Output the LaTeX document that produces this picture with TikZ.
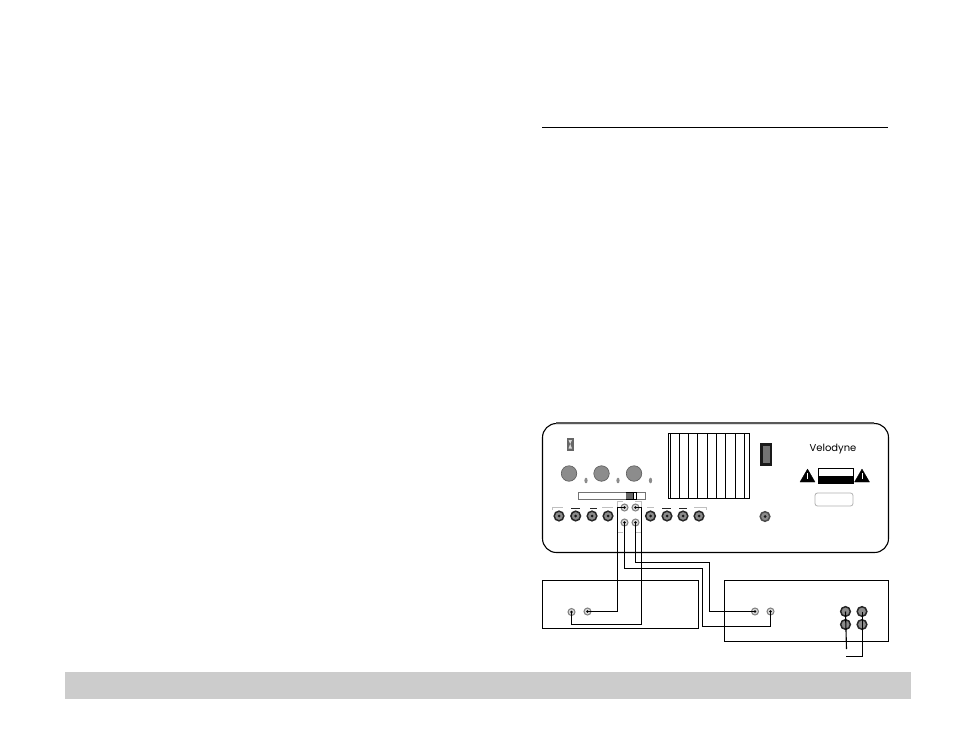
\documentclass[tikz,border=0pt]{standalone}
\usepackage{fontspec}
\setmainfont{Poppins}
\usetikzlibrary{shapes.geometric}
\tikzset{
  x=1bp,y=-1bp,
  wire/.style={draw=black,line width=1.1bp,line join=miter},
  edge box/.style={draw=black,line width=1.1bp},
  big socket/.style={circle,draw=black!85,line width=1.5bp,fill=black!45,minimum size=9.6bp,inner sep=0pt},
  small socket/.style={circle,draw=black!50,line width=1bp,fill=black!15,minimum size=7bp,inner sep=0pt},
  knob/.style={circle,draw=black!65,line width=0.6bp,fill=black!45,minimum size=15.5bp,inner sep=0pt},
  pip/.style={ellipse,fill=black!45,minimum width=3.2bp,minimum height=5.6bp,inner sep=0pt},
  soft/.style={draw=black!25,line width=0.8bp},
  hardtick/.style={draw=black!85,line width=0.8bp},
  louver/.style={draw=black,line width=0.7bp},
  warn/.style={fill=black,draw=black,line width=0.3bp,line join=round},
  dotc/.style={circle,fill=black!90,minimum size=3bp,inner sep=0pt},
}
\begin{document}
\begin{tikzpicture}
\useasboundingbox (0,0) rectangle (954,738);
\fill[white] (0,0) rectangle (954,738);
% page furniture
\draw[black,line width=1bp] (542,127.5) -- (888,127.5);
\fill[black!20] (65,672) rectangle (911,699);
% panel
\draw[edge box,rounded corners=14bp] (542.5,423.5) rectangle (888.5,552.5);
\draw[black!65,line width=1.6bp] (556,423) -- (874,423);
% small badge
\fill[black!60] (566.5,438) rectangle (574,450.5);
\fill[black!15] (568.5,440) -- (572,440) -- (570.2,444) -- cycle;
\fill[black!15] (568.5,448.5) -- (572,448.5) -- (570.2,444) -- cycle;
% knobs
\node[knob] (k1) at (569,473.5) {};
\node[knob] (k2) at (601.5,473.5) {};
\node[knob] (k3) at (634,473.5) {};
\node[pip] (p1) at (586,480.5) {};
\node[pip] (p2) at (618,480.5) {};
\node[pip] (p3) at (650.5,480.5) {};
% slider
\draw[black!55,line width=0.7bp,fill=white] (578,492) rectangle (645.5,499);
\fill[black!60] (625.5,492.5) rectangle (634,498.5);
\draw[black,line width=0.7bp,fill=white] (633.5,492) rectangle (636.5,499);
\draw[black,line width=0.7bp] (625.5,492) -- (636.5,492) (625.5,499) -- (636.5,499);
% louvers
\draw[edge box] (668.5,433.5) rectangle (749.5,498.5);
\foreach \lx in {670.5,679.5,688.5,697.5,707.5,716.5,725.5,735.5,744.5}
  \draw[louver] (\lx,433.5) -- (\lx,498.5);
% switch
\fill[black!90] (760,443) rectangle (771.7,466);
\fill[black!55] (762.7,445.7) rectangle (770,463);
% brand
\node[font=\fontsize{10}{12}\selectfont,inner sep=0pt] (brand) at (833,449.5) {Velodyne};
% warning
\draw[black,line width=0.7bp,fill=white] (818,468) rectangle (853.7,476);
\fill[black] (818,476) rectangle (853.7,484);
\draw[warn] (807.5,469) -- (815,482) -- (800,482) -- cycle;
\draw[warn] (862,469) -- (869.5,482) -- (854.5,482) -- cycle;
\fill[white] (807,473) rectangle (808,478.5);
\fill[white] (861.5,473) rectangle (862.5,478.5);
\draw[black!30,line width=0.8bp,rounded corners=2.5bp,fill=white] (815,493) rectangle (853,506);
% bracket ticks
\draw[soft] (552,510) -- (552,507.3) -- (563,507.3);
\draw[hardtick] (571,508) -- (579.5,508);
\draw[hardtick] (590,508) -- (597,508);
\draw[soft] (602,507.3) -- (613,507.3);
\draw[soft] (647,507.3) -- (654,507.3);
\draw[hardtick] (662,508) -- (671,508);
\draw[hardtick] (679,508) -- (687,508);
\draw[soft] (694,507.3) -- (706,507.3) -- (706,510);
\draw[soft] (617.5,532) -- (617.5,501) -- (623,501);
\draw[soft] (641.5,532) -- (641.5,501) -- (635,501);
\draw[soft] (617.5,532) -- (623,532);
\draw[soft] (635,532) -- (641.5,532);
% panel big sockets
\foreach \n/\sx in {a/559,b/575.7,c/592,d/608,e/650.5,f/667,g/683,h/699}
  {\node[big socket] (s\n) at (\sx,516) {}; \node[dotc] at (s\n) {};}
\node[big socket,fill=black!45,draw=black!70] (sx) at (765,516.5) {};
\node[dotc] at (sx) {};
% panel small sockets
\node[small socket] (pa) at (624.5,507.5) {};
\node[small socket] (pb) at (635.5,507.5) {};
\node[small socket] (pc) at (624.5,522.5) {};
\node[small socket] (pd) at (635.5,522.5) {};
% source boxes
\draw[edge box] (542.5,580.5) rectangle (698.5,628.5);
\draw[edge box] (724.5,580.5) rectangle (888.5,641.5);
% small sockets on boxes
\node[small socket] (la) at (571.5,612) {};
\node[small socket] (lb) at (587.5,611.5) {};
\node[small socket] (ra) at (755,611.5) {};
\node[small socket] (rb) at (770.5,611.5) {};
% big sockets on right box
\node[big socket] (q1) at (845.5,611.5) {};
\node[big socket] (q2) at (862,611.5) {};
\node[big socket] (q3) at (845.5,624.5) {};
\node[big socket] (q4) at (862,624.5) {};
\coordinate (fa) at (846.5,649);
\coordinate (fb) at (846,656.5);
% wires
\draw[wire] (pa.center) -- (617.5,507.5) |- (lb.center);
\draw[wire] (pb.center) -- (641.5,507.5) |- (571.5,624.5) -- (la.center);
\draw[wire] (pc.center) |- (702.5,568.5) |- (770.5,626.5) -- (rb.center);
\draw[wire] (pd.center) |- (709.5,562.5) |- (ra.center);
\draw[wire] (q1.center) -- (fa);
\draw[wire] (862.5,611.5) |- (fb);
% socket centres over wires
\foreach \m in {pa,pb,pc,pd,la,lb,ra,rb}
  \fill[black] (\m) circle (1.3bp);
\end{tikzpicture}
\end{document}
